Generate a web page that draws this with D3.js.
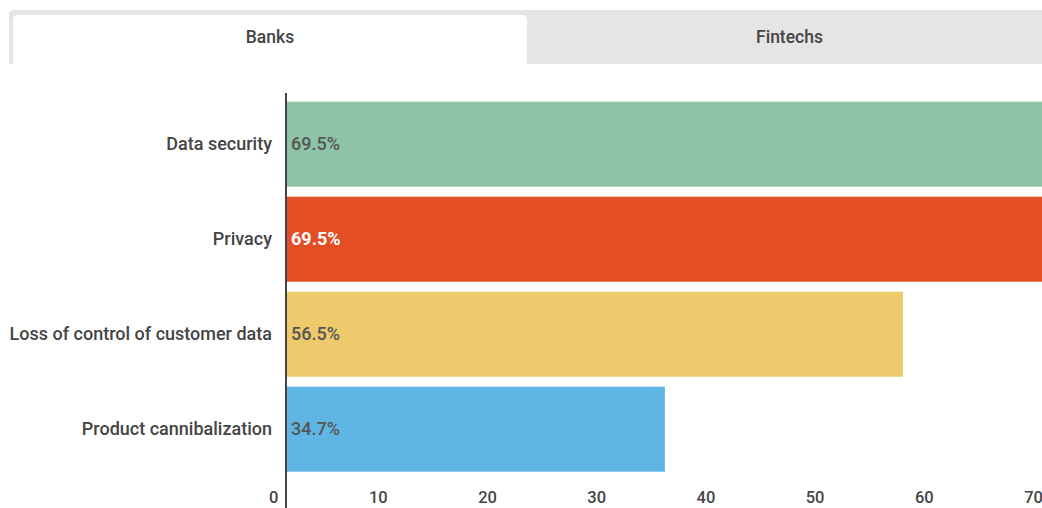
<!DOCTYPE html>
<html>
<head>
<meta charset="utf-8">
<script src="https://cdn.jsdelivr.net/npm/d3@7"></script>
<style>
  html, body { margin: 0; padding: 0; background: #fff; overflow: hidden; }
  svg { display: block; font-family: Roboto, "Noto Sans", sans-serif; }
</style>
</head>
<body>
<svg id="chart" width="1042" height="508"></svg>
<script>
// Survey concerns (Banks tab)
const categories = ["Data security", "Privacy", "Loss of control of customer data", "Product cannibalization"];
const values = [69.5, 69.5, 56.5, 34.7];
const barColors = ["#8fc3a8", "#e44e24", "#eeca6c", "#5fb6e5"];
const labelColors = ["#555555", "#ffffff", "#555555", "#555555"];
const tabs = ["Banks", "Fintechs"];
const xTicks = [0, 10, 20, 30, 40, 50, 60, 70];

const svg = d3.select("#chart");

// ---- tab strip ----
const tabLeft = 9, tabRight = 1052, tabTop = 10, tabBottom = 64;
const tabEdges = [13, 527, tabRight];

svg.append("path")
  .attr("d", `M${tabLeft},${tabBottom} V${tabTop + 5} Q${tabLeft},${tabTop} ${tabLeft + 5},${tabTop} H${tabRight} V${tabBottom} Z`)
  .attr("fill", "#e5e5e5");

const activeX0 = tabEdges[0], activeX1 = tabEdges[1], activeTop = 15, r = 5;
svg.append("path")
  .attr("d", `M${activeX0},${tabBottom + 1} V${activeTop + r} Q${activeX0},${activeTop} ${activeX0 + r},${activeTop} H${activeX1 - r} Q${activeX1},${activeTop} ${activeX1},${activeTop + r} V${tabBottom + 1} Z`)
  .attr("fill", "#ffffff");

svg.selectAll("text.tab")
  .data(tabs)
  .join("text")
  .attr("class", "tab")
  .attr("x", (d, i) => (tabEdges[i] + tabEdges[i + 1]) / 2)
  .attr("y", 37)
  .attr("dy", "0.35em")
  .attr("text-anchor", "middle")
  .attr("font-size", 17.5)
  .attr("font-weight", 500)
  .attr("fill", "#444")
  .text(d => d);

// ---- bar chart ----
const x = d3.scaleLinear().domain([0, 70]).range([286, 1050.4]);
const y = d3.scaleBand()
  .domain(categories)
  .range([96.7, 476.7])
  .paddingInner(0.105)
  .paddingOuter(0.0526);

svg.selectAll("rect.bar")
  .data(categories)
  .join("rect")
  .attr("class", "bar")
  .attr("x", x(0))
  .attr("y", d => y(d))
  .attr("width", (d, i) => x(values[i]) - x(0))
  .attr("height", y.bandwidth())
  .attr("fill", (d, i) => barColors[i]);

svg.selectAll("text.value")
  .data(categories)
  .join("text")
  .attr("class", "value")
  .attr("x", x(0) + 5)
  .attr("y", d => y(d) + y.bandwidth() / 2)
  .attr("dy", "0.33em")
  .attr("font-size", 18)
  .attr("font-weight", (d, i) => labelColors[i] === "#ffffff" ? 700 : 500)
  .attr("fill", (d, i) => labelColors[i])
  .text((d, i) => values[i].toFixed(1) + "%");

// category axis
const yAxis = svg.append("g")
  .attr("transform", `translate(${x(0)},0)`)
  .call(d3.axisLeft(y).tickSize(0).tickPadding(14));
yAxis.select(".domain").remove();
yAxis.selectAll("text")
  .attr("font-family", "Roboto, sans-serif")
  .attr("font-size", 18)
  .attr("font-weight", 500)
  .attr("fill", "#444");

// value axis
const xAxis = svg.append("g")
  .attr("transform", `translate(0,${y.range()[1]})`)
  .call(d3.axisBottom(x).tickValues(xTicks).tickSize(0).tickPadding(15));
xAxis.select(".domain").remove();
xAxis.selectAll("text")
  .attr("font-family", "Roboto, sans-serif")
  .attr("font-size", 16.5)
  .attr("font-weight", 500)
  .attr("fill", "#444")
  .attr("text-anchor", "end")
  .attr("dx", -8);

// baseline
svg.append("line")
  .attr("x1", x(0)).attr("x2", x(0))
  .attr("y1", 93).attr("y2", 508)
  .attr("stroke", "#444")
  .attr("stroke-width", 2);
</script>
</body>
</html>
